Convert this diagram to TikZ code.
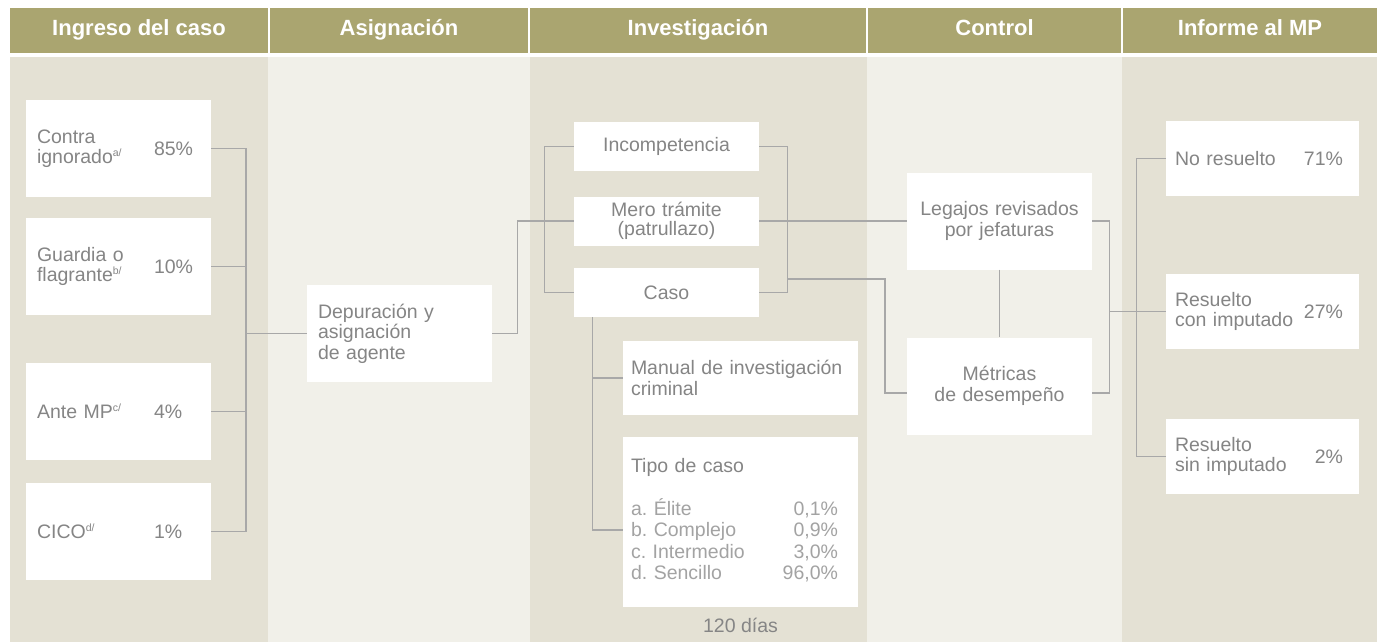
\documentclass[tikz,border=0pt]{standalone}
\usepackage{fontspec}
\setmainfont{Liberation Sans}
\usetikzlibrary{calc}

\definecolor{olive}{HTML}{AAA570}
\definecolor{sand}{HTML}{E4E1D4}
\definecolor{cream}{HTML}{F1F0E9}
\definecolor{ink}{HTML}{858585}
\definecolor{faint}{HTML}{A3A3A3}
\definecolor{rulegray}{HTML}{A8A8A8}

\newcommand\body{\fontsize{19.5}{20.5}\selectfont}
\newcommand\fn[1]{\raisebox{7pt}{\fontsize{10.5}{10.5}\selectfont #1}}
\frenchspacing

\begin{document}
\begin{tikzpicture}[x=1pt, y=-1pt,
  head/.style={fill=olive, text=white, font=\bfseries\fontsize{22}{24}\selectfont,
    inner sep=0pt, minimum height=45pt, text height=16pt, text depth=5pt},
  box/.style={fill=white, text=ink, inner xsep=11pt, inner ysep=0pt, align=left, font=\body},
  tall/.style={text width=163pt, minimum height=97pt},
  slim/.style={text width=163pt, minimum height=49pt, align=center},
  outbox/.style={inner xsep=9pt, text width=175pt, minimum height=75pt},
  pct/.style={text=ink, font=\body, inner sep=0pt},
  wire/.style={draw=rulegray, line width=1.2pt}]
  \useasboundingbox (0,0) rectangle (1377,642);

  % column bands
  \fill[sand]  (10,57)   rectangle (268,642);
  \fill[cream] (268,57)  rectangle (530,642);
  \fill[sand]  (530,57)  rectangle (867,642);
  \fill[cream] (867,57)  rectangle (1122,642);
  \fill[sand]  (1122,57) rectangle (1377,642);

  \node[head, minimum width=258pt] (h-ingreso) at (139,30.5)   {Ingreso del caso};
  \node[head, minimum width=258pt] (h-asig)    at (399,30.5)   {Asignación};
  \node[head, minimum width=336pt] (h-inv)     at (698,30.5)   {Investigación};
  \node[head, minimum width=253pt] (h-control) at (994.5,30.5) {Control};
  \node[head, minimum width=254pt] (h-informe) at (1250,30.5)  {Informe al MP};

  % ingreso
  \node[box, tall] (contra)  at (118.5,148.5) {Contra\\ignorado\fn{a/}};
  \node[box, tall] (guardia) at (118.5,266.5) {Guardia o\\flagrante\fn{b/}};
  \node[box, tall] (ante)    at (118.5,411.5) {Ante MP\fn{c/}};
  \node[box, tall] (cico)    at (118.5,531.5) {CICO\fn{d/}};
  \node[pct, anchor=west] (p-contra)  at ([xshift=128pt]contra.west)  {85\%};
  \node[pct, anchor=west] (p-guardia) at ([xshift=128pt]guardia.west) {10\%};
  \node[pct, anchor=west] (p-ante)    at ([xshift=128pt]ante.west)    {4\%};
  \node[pct, anchor=west] (p-cico)    at ([xshift=128pt]cico.west)    {1\%};

  % asignacion
  \node[box, tall] (dep) at (399.5,333.5) {Depuración y\\asignación\\de agente};

  % investigacion
  \node[box, slim] (inc)  at (666.5,146.5) {Incompetencia};
  \node[box, slim, font=\fontsize{19.5}{18.5}\selectfont] (mero) at (666.5,221) {Mero trámite\\(patrullazo)};
  \node[box, slim] (caso) at (666.5,292.5) {Caso};
  \node[box, inner xsep=8pt, text width=219pt, minimum height=74pt] (manual) at (740.5,378)
    {Manual de investigación\\criminal};
  \node[box, inner xsep=8pt, text width=219pt, minimum height=170pt] (tipo) at (740.5,522)
    {Tipo de caso\\[21pt]{\color{faint}\fontsize{19.5}{21.5}\selectfont
     \begin{tabular*}{207pt}[t]{@{}l@{\extracolsep{\fill}}r@{}}
       a. Élite & 0,1\%\\
       b. Complejo & 0,9\%\\
       c. Intermedio & 3,0\%\\
       d. Sencillo & 96,0\%
     \end{tabular*}}};
  \node[pct] (dias) at (740.5,625) {120 días};

  % control
  \node[box, tall, align=center] (leg) at (999.5,221) {Legajos revisados\\por jefaturas};
  \node[box, tall, align=center] (met) at (999.5,386) {Métricas\\de desempeño};

  % informe
  \node[box, outbox] (nores)  at (1262.5,158.5) {No resuelto};
  \node[box, outbox] (rescon) at (1262.5,311.5) {Resuelto\\con imputado};
  \node[box, outbox] (ressin) at (1262.5,456.5) {Resuelto\\sin imputado};
  \node[pct, anchor=east] (p-nores)  at ([xshift=-16pt]nores.east)  {71\%};
  \node[pct, anchor=east] (p-rescon) at ([xshift=-16pt]rescon.east) {27\%};
  \node[pct, anchor=east] (p-ressin) at ([xshift=-16pt]ressin.east) {2\%};

  % connectors
  \coordinate (inJ)  at (246,333.5);
  \coordinate (midJ) at (787,279);
  \coordinate (outJ) at (1109,311.5);
  \coordinate (stem) at ([xshift=19pt]caso.south west);
  \draw[wire] (contra.east) -| (inJ);
  \draw[wire] (guardia.east) -| (inJ);
  \draw[wire] (ante.east) -| (inJ);
  \draw[wire] (cico.east) -| (inJ);
  \draw[wire] (inJ) -- (dep.west);
  \draw[wire] (dep.east) -- ++(25,0) |- (mero.west);
  \draw[wire] (inc.west) -- ++(-29,0) |- (caso.west);
  \draw[wire] (inc.east) -- ++(28,0) |- (caso.east);
  \draw[wire] (stem) |- (manual.west);
  \draw[wire] (stem) |- ([yshift=-8pt]tipo.west);
  \draw[wire] (mero.east) -- (leg.west);
  \draw[wire] (midJ) -- ++(98,0) |- ([yshift=-7pt]met.west);
  \draw[wire] (leg.south) -- (met.north);
  \draw[wire] (leg.east) -- ++(17,0) |- ([yshift=-7pt]met.east);
  \draw[wire] (outJ) -- (rescon.west);
  \draw[wire] (nores.west) -- ++(-29,0) |- (ressin.west);
\end{tikzpicture}
\end{document}
